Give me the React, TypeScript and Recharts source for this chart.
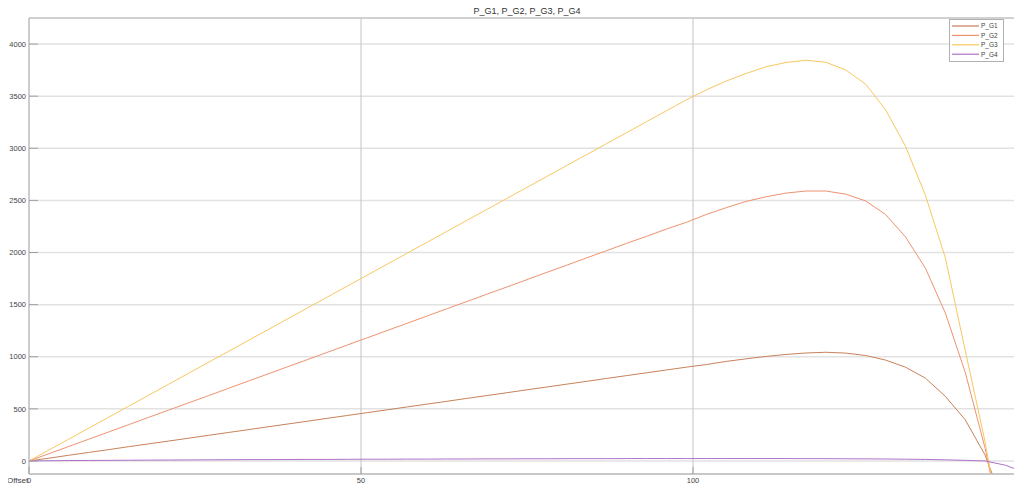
import React from 'react';
import { LineChart, Line, XAxis, YAxis, CartesianGrid, ReferenceLine } from 'recharts';

// sample positions (x axis)
const xValues = [
  0, 3, 6, 9, 12, 15, 18, 21, 24, 27, 30, 33, 36, 39, 42, 45, 48, 51, 54, 57, 60, 63, 66, 69, 72,
  75, 78, 81, 84, 87, 90, 93, 96, 99, 102, 105, 108, 111, 114, 117, 120, 123, 126, 129, 132, 135,
  138, 141, 144, 147, 150,
];

const pG1 = [
  0, 27, 55, 82, 109, 137, 164, 191, 218, 246, 273, 300, 328, 355, 382, 410, 437, 464, 491, 519,
  546, 573, 601, 628, 655, 683, 710, 737, 764, 792, 819, 846, 873, 900, 925, 955, 980, 1003, 1022,
  1036, 1043, 1035, 1012, 968, 900, 795, 620, 395, 55, -450, -1000,
];

const pG2 = [
  0, 70, 139, 209, 278, 348, 418, 487, 557, 626, 696, 766, 835, 905, 974, 1044, 1114, 1183, 1253,
  1322, 1392, 1462, 1531, 1601, 1670, 1740, 1810, 1879, 1949, 2018, 2088, 2155, 2225, 2290, 2365,
  2430, 2490, 2535, 2570, 2590, 2590, 2560, 2495, 2365, 2150, 1850, 1420, 850, 120, -800, -1900,
];

const pG3 = [
  0, 105, 210, 315, 420, 525, 630, 735, 840, 945, 1050, 1155, 1260, 1365, 1470, 1575, 1680, 1785,
  1890, 1995, 2100, 2205, 2310, 2415, 2520, 2625, 2730, 2835, 2940, 3045, 3150, 3255, 3360, 3465,
  3560, 3645, 3718, 3782, 3823, 3845, 3825, 3752, 3615, 3370, 3020, 2550, 1950, 1060, 180, -900,
  -2100,
];

const pG4 = [
  0, 2, 4, 5, 6, 7, 8, 9, 10, 11, 12, 13, 13, 14, 15, 15, 16, 17, 17, 18, 18, 19, 19, 20, 20, 21,
  21, 22, 22, 22, 23, 23, 23, 23, 23, 23, 23, 23, 23, 22, 22, 21, 20, 19, 17, 15, 11, 6, 0, -40,
  -110,
];

const xTicks = [0, 50, 100, 150];
const yTicks = [0, 500, 1000, 1500, 2000, 2500, 3000, 3500, 4000];

const series = [
  { key: 'P_G1', color: '#c8815c' },
  { key: 'P_G2', color: '#ee9270' },
  { key: 'P_G3', color: '#f7c85e' },
  { key: 'P_G4', color: '#ad72c8' },
];

const data = xValues.map((x, i) => ({
  x,
  P_G1: pG1[i],
  P_G2: pG2[i],
  P_G3: pG3[i],
  P_G4: pG4[i],
}));

const font = '"Liberation Sans", Arial, sans-serif';

const YTick = (props: any) => {
  const { x, y, payload } = props;
  return (
    <g>
      <line x1={x + 3} x2={x + 12} y1={y} y2={y} stroke="#a0a0a0" strokeWidth={1} />
      <text x={x} y={y} dy="0.355em" textAnchor="end" fontSize={7.5} fill="#444" fontFamily={font}>
        {payload.value}
      </text>
    </g>
  );
};

const XTick = (props: any) => {
  const { x, y, payload } = props;
  return (
    <g>
      <line x1={x} x2={x} y1={y - 4} y2={y - 11} stroke="#a0a0a0" strokeWidth={1} />
      <text x={x} y={y} dy="0.71em" textAnchor="middle" fontSize={7.5} fill="#444" fontFamily={font}>
        {payload.value}
      </text>
    </g>
  );
};

const LegendBox = () => (
  <svg
    width={53}
    height={41}
    style={{ position: 'absolute', left: 949, top: 19, background: '#fff', border: '1px solid #b0b0b0' }}
  >
    {series.map((s, i) => (
      <g key={s.key}>
        <line x1={2} x2={29} y1={6 + i * 9.4} y2={6 + i * 9.4} stroke={s.color} strokeWidth={1.2} />
        <text x={31} y={6 + i * 9.4} dy="0.355em" fontSize={6.5} fill="#444" fontFamily={font}>
          {s.key}
        </text>
      </g>
    ))}
  </svg>
);

const App: React.FC = () => {
  return (
    <div
      style={{
        position: 'relative',
        width: 1022,
        height: 486,
        marginLeft: -8,
        marginTop: -8,
        overflow: 'hidden',
        background: '#fff',
      }}
    >
      <LineChart width={1040} height={486} data={data} margin={{ top: 18, right: 15, bottom: 0, left: 0 }}>
        <CartesianGrid vertical={false} stroke="#e2e2e2" strokeWidth={1.5} />
        <ReferenceLine x={50} stroke="#c4c4c4" strokeWidth={1} />
        <ReferenceLine x={100} stroke="#c4c4c4" strokeWidth={1} />
        <ReferenceLine y={4250} stroke="#c8c8c8" strokeWidth={1.5} />
        <XAxis
          dataKey="x"
          type="number"
          domain={[0, 150]}
          ticks={xTicks}
          allowDataOverflow
          height={12}
          tickSize={0}
          tickMargin={4}
          tick={<XTick />}
          axisLine={{ stroke: '#bdbdbd', strokeWidth: 1.5 }}
          tickLine={false}
        />
        <YAxis
          type="number"
          domain={[-125, 4250]}
          ticks={yTicks}
          allowDataOverflow
          width={29}
          tickSize={0}
          tickMargin={3}
          tick={<YTick />}
          axisLine={{ stroke: '#bdbdbd', strokeWidth: 1.5 }}
          tickLine={false}
        />
        {series.map((s) => (
          <Line
            key={s.key}
            type="linear"
            dataKey={s.key}
            stroke={s.color}
            strokeWidth={1}
            dot={false}
            isAnimationActive={false}
          />
        ))}
      </LineChart>
      <div
        style={{
          position: 'absolute',
          left: 29,
          width: 996,
          top: 6,
          textAlign: 'center',
          fontFamily: font,
          fontSize: 9,
          color: '#333',
        }}
      >
        P_G1, P_G2, P_G3, P_G4
      </div>
      <LegendBox />
      <div
        style={{
          position: 'absolute',
          left: 7,
          top: 476,
          fontFamily: font,
          fontSize: 8,
          lineHeight: '9px',
          color: '#444',
        }}
      >
        Offset
      </div>
    </div>
  );
};

export default App;
